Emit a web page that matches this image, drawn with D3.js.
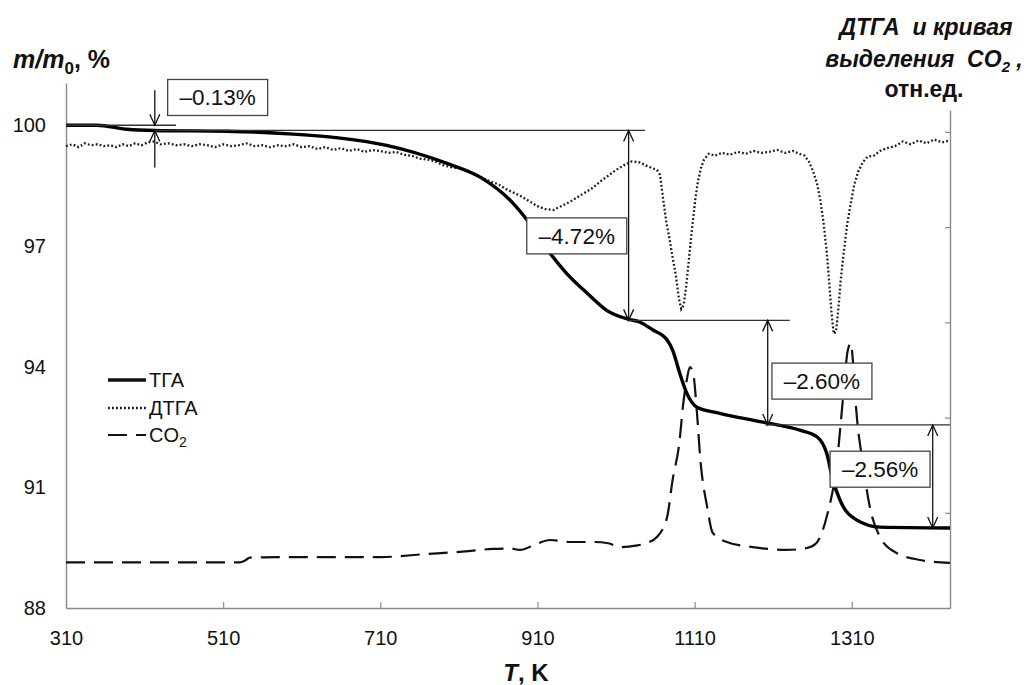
<!DOCTYPE html>
<html>
<head>
<meta charset="utf-8">
<script src="https://cdn.jsdelivr.net/npm/d3@7"></script>
<style>
  html, body { margin: 0; padding: 0; background: #fff; }
  svg { display: block; font-family: "Liberation Sans", Arial, sans-serif; }
</style>
</head>
<body>
<svg id="chart" width="1033" height="685"></svg>
<script>
// Temperature ticks, K
const xTicks = [310, 510, 710, 910, 1110, 1310];
// Mass ticks, %
const yTicks = [88, 91, 94, 97, 100];
// Right axis ticks (relative units)
const rTicks = [1, 2, 3, 4, 5];

// TGA: relative mass m/m0, %
const tgaT = [310, 349, 388, 423, 515, 599, 659, 718, 795, 837, 879, 897, 926, 947, 973, 998, 1025, 1040, 1057, 1075, 1082, 1091, 1100, 1113, 1142, 1197, 1244, 1266, 1278, 1286, 1295, 1316, 1346, 1435];
const tgaM = [100.0, 100.0, 99.90, 99.87, 99.85, 99.78, 99.68, 99.50, 99.05, 98.71, 98.06, 97.64, 96.82, 96.32, 95.83, 95.40, 95.18, 95.11, 94.91, 94.66, 94.41, 93.84, 93.34, 92.99, 92.84, 92.62, 92.42, 92.25, 91.85, 91.18, 90.68, 90.19, 90.01, 89.99];

// DTGA signal, relative units
const dtgaT = [310, 318, 326, 334, 342, 350, 358, 366, 374, 382, 390, 398, 406, 414, 422, 430, 440, 450, 460, 470, 480, 490, 500, 510, 520, 530, 540, 550, 560, 570, 580, 590, 600, 610, 620, 630, 640, 650, 660, 670, 680, 690, 700, 710, 720, 730, 740, 750, 760, 770, 780, 790, 800, 810, 820, 830, 840, 850, 860, 870, 880, 890, 900, 910, 920, 930, 940, 950, 960, 970, 980, 990, 1000, 1010, 1020, 1030, 1040, 1050, 1056, 1062, 1066, 1070, 1074, 1078, 1082, 1086, 1090, 1093, 1096, 1099, 1102, 1105, 1108, 1111, 1114, 1118, 1122, 1128, 1136, 1145, 1155, 1165, 1175, 1185, 1195, 1205, 1215, 1225, 1235, 1243, 1250, 1256, 1261, 1266, 1270, 1274, 1278, 1281, 1284, 1287, 1290, 1293, 1296, 1300, 1304, 1308, 1313, 1318, 1324, 1330, 1338, 1346, 1355, 1365, 1375, 1385, 1395, 1405, 1415, 1425, 1435];
const dtgaV = [4.85, 4.87, 4.84, 4.88, 4.86, 4.87, 4.85, 4.86, 4.84, 4.87, 4.85, 4.88, 4.86, 4.89, 4.90, 4.87, 4.88, 4.86, 4.87, 4.85, 4.87, 4.86, 4.84, 4.87, 4.85, 4.86, 4.88, 4.85, 4.86, 4.84, 4.86, 4.85, 4.87, 4.84, 4.85, 4.82, 4.84, 4.81, 4.83, 4.80, 4.82, 4.79, 4.81, 4.80, 4.78, 4.79, 4.76, 4.75, 4.72, 4.71, 4.69, 4.65, 4.63, 4.62, 4.59, 4.56, 4.52, 4.48, 4.45, 4.40, 4.36, 4.32, 4.27, 4.22, 4.19, 4.18, 4.22, 4.26, 4.31, 4.36, 4.41, 4.48, 4.54, 4.60, 4.65, 4.69, 4.68, 4.64, 4.62, 4.60, 4.55, 4.29, 4.05, 3.88, 3.68, 3.50, 3.25, 3.14, 3.18, 3.36, 3.60, 3.85, 4.08, 4.30, 4.47, 4.62, 4.71, 4.77, 4.75, 4.78, 4.76, 4.79, 4.77, 4.80, 4.78, 4.79, 4.81, 4.78, 4.80, 4.77, 4.75, 4.68, 4.58, 4.45, 4.28, 4.05, 3.75, 3.45, 3.12, 2.88, 2.90, 3.15, 3.45, 3.75, 4.02, 4.22, 4.44, 4.58, 4.68, 4.74, 4.75, 4.80, 4.83, 4.85, 4.90, 4.87, 4.91, 4.88, 4.92, 4.89, 4.91];

// CO2 evolution curve, relative units
const co2T = [310, 400, 500, 531, 538, 544, 600, 650, 710, 769, 811, 853, 875, 888, 900, 913, 926, 951, 981, 1000, 1015, 1035, 1049, 1062, 1075, 1082, 1091, 1095, 1100, 1104, 1108, 1113, 1117, 1126, 1133, 1151, 1184, 1227, 1253, 1265, 1278, 1291, 1299, 1305, 1309, 1311, 1316, 1324, 1333, 1346, 1367, 1397, 1435];
const co2V = [0.48, 0.48, 0.48, 0.48, 0.50, 0.53, 0.535, 0.535, 0.535, 0.567, 0.59, 0.62, 0.625, 0.61, 0.64, 0.686, 0.714, 0.693, 0.693, 0.68, 0.64, 0.655, 0.683, 0.746, 0.956, 1.345, 1.765, 2.11, 2.395, 2.53, 2.47, 2.05, 1.586, 1.06, 0.79, 0.693, 0.64, 0.61, 0.63, 0.683, 0.956, 1.523, 2.216, 2.71, 2.78, 2.637, 2.05, 1.523, 1.06, 0.746, 0.578, 0.504, 0.473];

// Mass-loss steps
const stepLabels = ["\u20130.13%", "\u20134.72%", "\u20132.60%", "\u20132.56%"];
const stepLoss = [0.13, 4.72, 2.60, 2.56];

const svg = d3.select("#chart");

const x = d3.scaleLinear().domain([310, 1435]).range([66, 950]);
const yL = d3.scaleLinear().domain([88, 101.05]).range([608, 83]);
const yR = d3.scaleLinear().domain([0, 5.23]).range([608, 110]);

const axisColor = "#8a8a8a";

// Bottom axis with inward ticks
const gx = svg.append("g").attr("transform", "translate(0,608)")
  .call(d3.axisBottom(x).tickValues(xTicks).tickSizeInner(-6).tickSizeOuter(0).tickPadding(23).tickFormat(d3.format("d")));
// Left axis, labels only
const gy = svg.append("g").attr("transform", "translate(66,0)")
  .call(d3.axisLeft(yL).tickValues(yTicks).tickSize(0).tickPadding(20).tickFormat(d3.format("d")));
// Right axis, inward ticks, no labels
const gr = svg.append("g").attr("transform", "translate(950,0)")
  .call(d3.axisRight(yR).tickValues(rTicks).tickSizeInner(-5).tickSizeOuter(0).tickFormat(""));

[gx, gy, gr].forEach(g => {
  g.select(".domain").attr("stroke", axisColor).attr("stroke-width", 1.4);
  g.selectAll(".tick line").attr("stroke", axisColor).attr("stroke-width", 1.2);
  g.selectAll(".tick text").attr("fill", "#111").style("font-size", "20px")
    .style("font-family", "'Liberation Sans', Arial, sans-serif");
});

// Curves
const tgaData = tgaT.map((t, i) => [t, tgaM[i]]);
const dtgaData = dtgaT.map((t, i) => [t, dtgaV[i]]);
const co2Data = co2T.map((t, i) => [t, co2V[i]]);

svg.append("path").datum(co2Data)
  .attr("fill", "none").attr("stroke", "#111").attr("stroke-width", 2.2)
  .attr("stroke-dasharray", "19,9")
  .attr("d", d3.line().x(d => x(d[0])).y(d => yR(d[1])).curve(d3.curveMonotoneX));

svg.append("path").datum(dtgaData)
  .attr("fill", "none").attr("stroke", "#1a1a1a").attr("stroke-width", 2.3)
  .attr("stroke-dasharray", "1.8,2.2")
  .attr("d", d3.line().x(d => x(d[0])).y(d => yR(d[1])));

svg.append("path").datum(tgaData)
  .attr("fill", "none").attr("stroke", "#000").attr("stroke-width", 3.4)
  .attr("d", d3.line().x(d => x(d[0])).y(d => yL(d[1])).curve(d3.curveMonotoneX));

// Step annotations: levels derived from the stated losses
const lvl0 = 100;
const lvl1 = lvl0 - stepLoss[0];
const lvl2 = lvl1 - stepLoss[1];
const lvl3 = lvl2 - stepLoss[2];
const lvl4 = lvl3 - stepLoss[3];

const ann = svg.append("g").attr("stroke", "#111").attr("stroke-width", 1.3).attr("fill", "none");

function hline(t0, t1, m) {
  ann.append("line").attr("x1", x(t0)).attr("x2", x(t1)).attr("y1", yL(m)).attr("y2", yL(m)).attr("stroke", "#333");
}
function head(px, py, dir) {
  // open chevron, tip at (px, py); dir = +1 points down, -1 points up
  const w = 5, h = 11;
  ann.append("path").attr("d", `M${px - w},${py - dir * h} L${px},${py} L${px + w},${py - dir * h}`);
}
function vline(px, y1, y2) {
  ann.append("line").attr("x1", px).attr("x2", px).attr("y1", y1).attr("y2", y2);
}

// step 1 (small loss): two opposing arrows
hline(310, 450, lvl0);
hline(423, 1047, lvl1);
{
  const px = x(423);
  vline(px, yL(lvl0) - 35, yL(lvl0));
  head(px, yL(lvl0), 1);
  vline(px, yL(lvl1), yL(lvl1) + 37);
  head(px, yL(lvl1), -1);
}
// step 2
hline(1025, 1231, lvl2);
{
  const px = x(1026);
  vline(px, yL(lvl1), yL(lvl2));
  head(px, yL(lvl1), -1);
  head(px, yL(lvl2), 1);
}
// step 3
hline(1200, 1435, lvl3);
{
  const px = x(1203);
  vline(px, yL(lvl2), yL(lvl3));
  head(px, yL(lvl2), -1);
  head(px, yL(lvl3), 1);
}
// step 4
{
  const px = x(1413);
  vline(px, yL(lvl3), yL(lvl4));
  head(px, yL(lvl3), -1);
  head(px, yL(lvl4), 1);
}

// Label boxes (centre positions in data units)
const boxT = [503, 960, 1272, 1346];
const boxM = [100.69, 97.25, 93.64, 91.45];
stepLabels.forEach((s, i) => {
  const cx = x(boxT[i]), cy = yL(boxM[i]);
  svg.append("rect").attr("x", cx - 50).attr("y", cy - 18).attr("width", 100).attr("height", 36)
    .attr("fill", "#fff").attr("stroke", "#444").attr("stroke-width", 1.3);
  svg.append("text").attr("x", cx).attr("y", cy + 8).attr("text-anchor", "middle")
    .style("font-size", "22.5px").attr("fill", "#111").text(s);
});

// Legend
const legend = svg.append("g");
const legItems = [
  { name: "ТГА", w: 3.4, dash: null, y: 380 },
  { name: "ДТГА", w: 2.3, dash: "1.8,2.2", y: 408 },
  { name: "CO", w: 2.2, dash: "19,9", y: 435, sub: "2" }
];
legItems.forEach(it => {
  legend.append("line").attr("x1", 108).attr("x2", 146).attr("y1", it.y).attr("y2", it.y)
    .attr("stroke", "#111").attr("stroke-width", it.w).attr("stroke-dasharray", it.dash);
  const t = legend.append("text").attr("x", 149).attr("y", it.y + 7).style("font-size", "20px").attr("fill", "#111").text(it.name);
  if (it.sub) t.append("tspan").attr("dy", 5).style("font-size", "14px").text(it.sub);
});

// Axis titles
const lt = svg.append("text").attr("x", 13).attr("y", 68).style("font-size", "25px").style("font-weight", "bold").attr("fill", "#111");
lt.append("tspan").style("font-style", "italic").text("m/m");
lt.append("tspan").attr("dy", 6).style("font-size", "17px").text("0");
lt.append("tspan").attr("dy", -6).text(", %");

const xt = svg.append("text").attr("x", 526).attr("y", 681).attr("text-anchor", "middle")
  .style("font-size", "24px").style("font-weight", "bold").attr("fill", "#111");
xt.append("tspan").style("font-style", "italic").text("T");
xt.append("tspan").text(", K");

const rt = svg.append("g").attr("fill", "#111").style("font-weight", "bold").style("font-size", "23px");
rt.append("text").attr("x", 926).attr("y", 35).attr("text-anchor", "middle").style("font-style", "italic")
  .attr("xml:space", "preserve").text("ДТГА  и кривая");
const r2 = rt.append("text").attr("x", 924).attr("y", 67).attr("text-anchor", "middle").style("font-style", "italic")
  .attr("xml:space", "preserve");
r2.append("tspan").text("выделения  CO");
r2.append("tspan").attr("dy", 5).style("font-size", "15px").text("2");
r2.append("tspan").attr("dy", -5).text(" ,");
rt.append("text").attr("x", 924).attr("y", 97).attr("text-anchor", "middle").text("отн.ед.");
</script>
</body>
</html>
